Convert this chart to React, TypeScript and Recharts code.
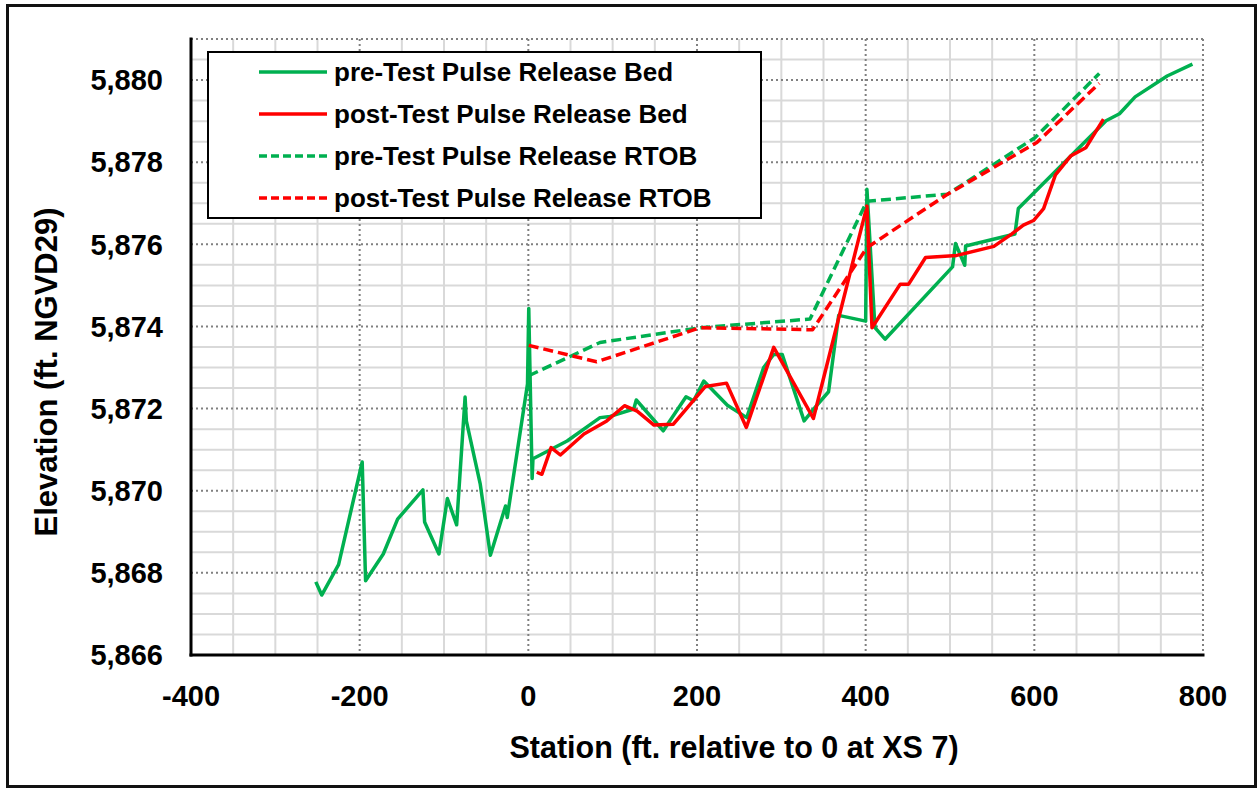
import React from 'react';
import { LineChart, Line, XAxis, YAxis, CartesianGrid, Legend } from 'recharts';

// station (ft) / elevation (ft NGVD29) pairs
const preBedStation = [-252, -245, -225, -197, -193, -172, -155, -125, -123, -106, -96, -85, -75, -73.5, -57, -45, -27, -25, -1, 0.5, 4.5, 5.5, 46, 85, 97, 125, 128, 160, 187, 196, 208, 236, 259, 279, 291, 301, 327, 340, 356, 368, 400, 401.5, 411, 423, 503, 506.5, 517.5, 518.5, 577, 581, 685, 701, 719.5, 757.5, 787.5];
const preBedElev = [5867.78, 5867.46, 5868.2, 5870.7, 5867.81, 5868.46, 5869.31, 5870.02, 5869.24, 5868.46, 5869.81, 5869.17, 5872.28, 5871.7, 5870.16, 5868.43, 5869.63, 5869.35, 5872.6, 5874.44, 5870.3, 5870.78, 5871.21, 5871.78, 5871.81, 5871.99, 5872.21, 5871.46, 5872.29, 5872.19, 5872.67, 5872.08, 5871.78, 5873.0, 5873.32, 5873.32, 5871.7, 5872.03, 5872.41, 5874.27, 5874.13, 5877.34, 5873.97, 5873.69, 5875.45, 5876.02, 5875.49, 5875.96, 5876.25, 5876.87, 5879.01, 5879.18, 5879.59, 5880.1, 5880.39];

const postBedStation = [10, 16, 27, 38, 66, 93, 114, 129, 149, 172, 210, 235, 258.5, 291, 338, 401.5, 407.5, 441, 451, 471, 508, 552, 573, 587, 599, 611, 625, 643, 661, 682];
const postBedElev = [5870.45, 5870.4, 5871.05, 5870.87, 5871.38, 5871.7, 5872.07, 5871.94, 5871.6, 5871.62, 5872.54, 5872.62, 5871.54, 5873.49, 5871.76, 5876.93, 5873.97, 5875.03, 5875.03, 5875.68, 5875.73, 5875.95, 5876.25, 5876.47, 5876.58, 5876.87, 5877.69, 5878.15, 5878.35, 5879.05];

const preRtobStation = [0.5, 85, 204, 334, 401.5, 497, 601, 677];
const preRtobElev = [5872.8, 5873.61, 5873.97, 5874.18, 5877.05, 5877.22, 5878.6, 5880.16];

const postRtobStation = [0.5, 81, 204, 337, 401.5, 497, 603, 677];
const postRtobElev = [5873.54, 5873.14, 5873.97, 5873.92, 5875.92, 5877.22, 5878.48, 5879.92];

const xTicks = [-400, -200, 0, 200, 400, 600, 800];
const yTicks = [5866, 5868, 5870, 5872, 5874, 5876, 5878, 5880];
const xMinorTicks = [-350, -300, -250, -150, -100, -50, 50, 100, 150, 250, 300, 350, 450, 500, 550, 650, 700, 750];
const yMinorTicks = [5866.5, 5867, 5867.5, 5868.5, 5869, 5869.5, 5870.5, 5871, 5871.5, 5872.5, 5873, 5873.5, 5874.5, 5875, 5875.5, 5876.5, 5877, 5877.5, 5878.5, 5879, 5879.5, 5880.5];

const zip = (xs: number[], ys: number[]) => xs.map((x, i) => ({ x, y: ys[i] }));

const GREEN = '#00B050';
const RED = '#FF0000';
const FONT = 'Arial, "Liberation Sans", sans-serif';

const series = [
  { name: 'pre-Test Pulse Release Bed', color: GREEN, dash: undefined, data: zip(preBedStation, preBedElev) },
  { name: 'post-Test Pulse Release Bed', color: RED, dash: undefined, data: zip(postBedStation, postBedElev) },
  { name: 'pre-Test Pulse Release RTOB', color: GREEN, dash: '10 5', data: zip(preRtobStation, preRtobElev) },
  { name: 'post-Test Pulse Release RTOB', color: RED, dash: '10 5', data: zip(postRtobStation, postRtobElev) },
];

const tickStyle = { fill: '#000', fontSize: 29, fontWeight: 700, fontFamily: FONT };
const border = { stroke: '#000', strokeWidth: 3, strokeLinecap: 'square' as const };

const XTitle = () => (
  <text x={734} y={758} textAnchor="middle" fontSize={30.5} fontWeight={700} fontFamily={FONT} fill="#000">
    Station (ft. relative to 0 at XS 7)
  </text>
);

const YTitle = () => (
  <text transform="translate(57, 372) rotate(-90)" textAnchor="middle" fontSize={31} fontWeight={700} fontFamily={FONT} fill="#000">
    Elevation (ft. NGVD29)
  </text>
);

const LegendBox = () => (
  <div
    style={{
      position: 'relative',
      width: 555,
      height: 168,
      boxSizing: 'border-box',
      border: '2px solid #000',
      background: '#fff',
      fontFamily: FONT,
    }}
  >
    {series.map((s, i) => (
      <div
        key={s.name}
        style={{
          position: 'absolute',
          left: 49,
          top: 42 * i - 2,
          height: 42,
          display: 'flex',
          alignItems: 'center',
          whiteSpace: 'nowrap',
        }}
      >
        <svg width={70} height={8} style={{ marginRight: 6 }}>
          <line x1={1} y1={4} x2={69} y2={4} stroke={s.color} strokeWidth={3.5} strokeDasharray={s.dash ? '8 4' : undefined} />
        </svg>
        <span style={{ fontSize: 26, fontWeight: 700, lineHeight: '42px', color: '#000' }}>{s.name}</span>
      </div>
    ))}
  </div>
);

export default function App() {
  return (
    <div style={{ position: 'absolute', left: 0, top: 0, width: 1259, height: 789, background: '#fff' }}>
      <div
        style={{
          position: 'absolute',
          left: 6,
          top: 4,
          width: 1251,
          height: 784,
          boxSizing: 'border-box',
          border: '3px solid #111',
        }}
      />
      <LineChart width={1259} height={789} margin={{ top: 39, right: 56, bottom: 0, left: 0 }} style={{ position: 'absolute', left: 0, top: 0 }}>
        <XAxis
          xAxisId="top"
          orientation="top"
          type="number"
          dataKey="x"
          domain={[-400, 800]}
          ticks={xTicks}
          height={0}
          tick={false}
          tickLine={false}
          axisLine={border}
          allowDataOverflow
        />
        <YAxis
          yAxisId="right"
          orientation="right"
          type="number"
          domain={[5866, 5881]}
          ticks={yTicks}
          width={0}
          tick={false}
          tickLine={false}
          axisLine={border}
          allowDataOverflow
        />
        <CartesianGrid stroke="#d9d9d9" strokeWidth={2} horizontalValues={yMinorTicks} verticalValues={xMinorTicks} />
        <CartesianGrid stroke="#808080" strokeWidth={2} strokeDasharray="2 3" />
        <XAxis
          type="number"
          dataKey="x"
          domain={[-400, 800]}
          ticks={xTicks}
          interval={0}
          height={134}
          tickSize={0}
          tickMargin={30}
          tickLine={false}
          axisLine={border}
          tick={tickStyle}
          allowDataOverflow
          label={<XTitle />}
        />
        <YAxis
          type="number"
          domain={[5866, 5881]}
          ticks={yTicks}
          interval={0}
          width={191}
          tickSize={0}
          tickMargin={28}
          tickLine={false}
          axisLine={border}
          tick={tickStyle}
          tickFormatter={(v: number) => v.toLocaleString('en-US')}
          allowDataOverflow
          label={<YTitle />}
        />
        {series.map((s) => (
          <Line
            key={s.name}
            data={s.data}
            dataKey="y"
            name={s.name}
            type="linear"
            stroke={s.color}
            strokeWidth={3.5}
            strokeDasharray={s.dash}
            strokeLinejoin="round"
            dot={false}
            activeDot={false}
            isAnimationActive={false}
          />
        ))}
        <Legend
          layout="vertical"
          align="center"
          verticalAlign="middle"
          content={<LegendBox />}
          wrapperStyle={{ left: 207, top: 51, width: 555, height: 168 }}
        />
      </LineChart>
    </div>
  );
}
